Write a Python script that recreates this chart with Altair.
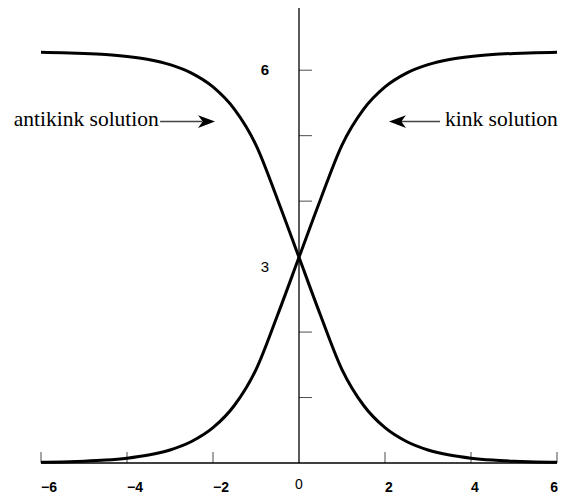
import altair as alt
import pandas as pd

# ---- data ----
xs = [-6, -5.5, -5, -4.5, -4, -3.5, -3, -2.5, -2, -1.5, -1, -0.5, 0,
      0.5, 1, 1.5, 2, 2.5, 3, 3.5, 4, 4.5, 5, 5.5, 6]
kink = [0.010, 0.016, 0.027, 0.044, 0.073, 0.121, 0.199, 0.328, 0.539, 0.882,
        1.427, 2.257, 3.142, 4.026, 4.856, 5.401, 5.744, 5.955, 6.084, 6.163,
        6.210, 6.239, 6.256, 6.267, 6.273]
antikink = [6.273, 6.267, 6.256, 6.239, 6.210, 6.163, 6.084, 5.955, 5.744, 5.401,
            4.856, 4.026, 3.142, 2.257, 1.427, 0.882, 0.539, 0.328, 0.199, 0.121,
            0.073, 0.044, 0.027, 0.016, 0.010]

x_ticks = [-6, -4, -2, 2, 4]
x_labels = ["\u22126", "\u22124", "\u22122", "2", "4"]
x_last_tick = [6]
x_last_label = ["6"]
y_ticks = [1, 2, 4, 5, 6]
y_bold_vals = [6]
y_bold_labels = ["6"]
y_norm_vals = [3]
y_norm_labels = ["3"]

x_min, x_max = -6, 6
y_min, y_max = 0, 6.95

# annotation anchors (data units)
ann_text = ["antikink solution", "kink solution"]
ann_text_x = [-3.26, 3.395]
ann_text_y = [5.145, 5.145]
arrow_line_x = [-3.23, 2.25]
arrow_line_x2 = [-2.25, 3.28]
arrow_y = [5.215, 5.215]
arrow_tip_x = [-1.953, 2.093]

SERIF = "Liberation Serif, Times New Roman, serif"
SANS = "Liberation Sans, Arial, sans-serif"

# ---- frames ----
curves = pd.DataFrame({
    "x": xs * 2,
    "y": kink + antikink,
    "s": ["kink"] * len(xs) + ["antikink"] * len(xs),
})

xsc = alt.Scale(domain=[x_min, x_max], nice=False, zero=False)
ysc = alt.Scale(domain=[y_min, y_max], nice=False, zero=False)


def X(f):
    return alt.X(f, type="quantitative", scale=xsc, axis=None)


def Y(f):
    return alt.Y(f, type="quantitative", scale=ysc, axis=None)


lines = alt.Chart(curves).mark_line(
    color="black", strokeWidth=3, interpolate="monotone"
).encode(x=X("x"), y=Y("y"), detail="s:N")

axes_df = pd.DataFrame({"x": [x_min, 0], "x2": [x_max, 0],
                        "y": [0, 0], "y2": [0, y_max]})
axes = alt.Chart(axes_df).mark_rule(color="black", strokeWidth=1.3).encode(
    x=X("x"), x2="x2", y=Y("y"), y2="y2")

xt_df = pd.DataFrame({"x": x_ticks + x_last_tick,
                      "y": [0] * (len(x_ticks) + 1)})
xticks = alt.Chart(xt_df).mark_tick(
    orient="vertical", color="black", size=11, thickness=1, yOffset=-5.5
).encode(x=X("x"), y=Y("y"))

xl_df = pd.DataFrame({"x": x_ticks, "y": [0] * len(x_ticks), "lab": x_labels})
xlabs = alt.Chart(xl_df).mark_text(
    align="left", baseline="alphabetic", dy=29, font=SANS,
    fontSize=14, fontWeight="bold", color="black"
).encode(x=X("x"), y=Y("y"), text="lab:N")
xll_df = pd.DataFrame({"x": x_last_tick, "y": [0], "lab": x_last_label})
xlab_last = alt.Chart(xll_df).mark_text(
    align="right", baseline="alphabetic", dy=29, dx=1, font=SANS,
    fontSize=14, fontWeight="bold", color="black"
).encode(x=X("x"), y=Y("y"), text="lab:N")

zero_df = pd.DataFrame({"x": [0], "y": [0], "lab": ["0"]})
zlab = alt.Chart(zero_df).mark_text(
    align="center", baseline="alphabetic", dy=26, font=SANS,
    fontSize=14, color="black"
).encode(x=X("x"), y=Y("y"), text="lab:N")

yt_df = pd.DataFrame({"x": [0] * len(y_ticks), "y": y_ticks})
yticks = alt.Chart(yt_df).mark_tick(
    orient="horizontal", color="black", size=13, thickness=1, xOffset=6.5
).encode(x=X("x"), y=Y("y"))

yb_df = pd.DataFrame({"x": [0], "y": y_bold_vals, "lab": y_bold_labels})
ylabs_b = alt.Chart(yb_df).mark_text(
    align="right", baseline="middle", dx=-30, font=SANS,
    fontSize=15, fontWeight="bold", color="black"
).encode(x=X("x"), y=Y("y"), text="lab:N")
yn_df = pd.DataFrame({"x": [0], "y": y_norm_vals, "lab": y_norm_labels})
ylabs_n = alt.Chart(yn_df).mark_text(
    align="right", baseline="middle", dx=-30, font=SANS,
    fontSize=15, color="black"
).encode(x=X("x"), y=Y("y"), text="lab:N")

ann_df = pd.DataFrame({"x": ann_text_x, "y": ann_text_y, "t": ann_text})
ann_left = alt.Chart(ann_df.iloc[[0]]).mark_text(
    align="right", baseline="alphabetic", font=SERIF,
    fontSize=21.5, color="black"
).encode(x=X("x"), y=Y("y"), text="t:N")
ann_right = alt.Chart(ann_df.iloc[[1]]).mark_text(
    align="left", baseline="alphabetic", font=SERIF,
    fontSize=21.5, color="black"
).encode(x=X("x"), y=Y("y"), text="t:N")

arr_df = pd.DataFrame({"x": arrow_line_x, "x2": arrow_line_x2, "y": arrow_y,
                       "tip": arrow_tip_x})
arr_lines = alt.Chart(arr_df).mark_rule(color="#444444", strokeWidth=1.5).encode(
    x=X("x"), x2="x2", y=Y("y"))
head_r = alt.Chart(arr_df.iloc[[0]]).mark_point(
    shape="M0,0 L-2,-0.75 L-1.45,0 L-2,0.75 Z", size=289, filled=True,
    color="black", opacity=1
).encode(x=X("tip"), y=Y("y"))
head_l = alt.Chart(arr_df.iloc[[1]]).mark_point(
    shape="M0,0 L2,-0.75 L1.45,0 L2,0.75 Z", size=289, filled=True,
    color="black", opacity=1
).encode(x=X("tip"), y=Y("y"))

chart = alt.layer(
    axes, xticks, yticks, lines, xlabs, xlab_last, zlab, ylabs_b, ylabs_n,
    arr_lines, head_r, head_l, ann_left, ann_right
).properties(
    width=516, height=455,
    autosize=alt.AutoSizeParams(type="none"),
    padding={"left": 33, "top": 0, "right": 1, "bottom": 35},
    background="white",
).configure_view(stroke=None)

chart.save("out.html", embed_options={"renderer": "svg", "actions": False})
